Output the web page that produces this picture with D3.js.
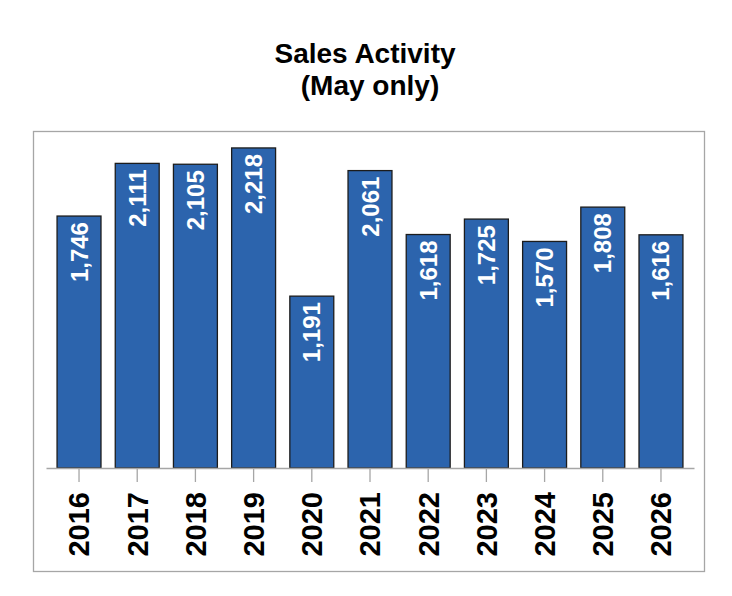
<!DOCTYPE html>
<html>
<head>
<meta charset="utf-8">
<script src="https://cdn.jsdelivr.net/npm/d3@7"></script>
<style>
  body { margin: 0; background: #fff; }
  svg { display: block; font-family: "Liberation Sans", Arial, sans-serif; }
</style>
</head>
<body>
<svg id="chart" width="732" height="596"></svg>
<script>
// data
var years = ["2016","2017","2018","2019","2020","2021","2022","2023","2024","2025","2026"];
var sales = [1746, 2111, 2105, 2218, 1191, 2061, 1618, 1725, 1570, 1808, 1616];
var titleLines = ["Sales Activity", "(May only)"];

var svg = d3.select("#chart");

// frame
svg.append("rect")
  .attr("x", 33.5).attr("y", 131.5)
  .attr("width", 671).attr("height", 440)
  .attr("fill", "none").attr("stroke", "#a6a6a6").attr("stroke-width", 1.3);

// title
svg.append("text").attr("x", 365).attr("y", 63)
  .attr("text-anchor", "middle").attr("font-size", 28).attr("font-weight", "bold")
  .text(titleLines[0]);
svg.append("text").attr("x", 370).attr("y", 95)
  .attr("text-anchor", "middle").attr("font-size", 28).attr("font-weight", "bold")
  .text(titleLines[1]);

var x = d3.scaleBand().domain(years).range([46, 694])
  .paddingInner(0.245).paddingOuter(0.19);
var y = d3.scaleLinear().domain([0, 2400]).range([468, 468 - 2400 * 0.1443]);

// bars
var fmt = d3.format(",");
var g = svg.append("g");
g.selectAll("rect").data(sales).enter().append("rect")
  .attr("x", function(d, i){ return x(years[i]); })
  .attr("y", function(d){ return y(d); })
  .attr("width", x.bandwidth())
  .attr("height", function(d){ return y(0) - y(d); })
  .attr("fill", "#2c64ad")
  .attr("stroke", "#1c1c1c").attr("stroke-width", 1.3);

// value labels inside bars
g.selectAll("text.val").data(sales).enter().append("text")
  .attr("class", "val")
  .attr("transform", function(d, i){
    var cx = x(years[i]) + x.bandwidth() / 2;
    return "translate(" + (cx + 8.5) + "," + (y(d) + 6) + ") rotate(-90)";
  })
  .attr("text-anchor", "end")
  .attr("font-size", 24).attr("font-weight", "bold").attr("fill", "#fff")
  .text(function(d){ return fmt(d); });

// x axis
var axis = svg.append("g").attr("transform", "translate(0,468)")
  .call(d3.axisBottom(x).tickSize(14).tickSizeOuter(0));
axis.select(".domain").attr("stroke", "#a6a6a6").attr("stroke-width", 1.3);
axis.selectAll(".tick line").attr("stroke", "#a6a6a6").attr("stroke-width", 1.3);
axis.selectAll(".tick text")
  .attr("transform", "rotate(-90)")
  .attr("x", -24).attr("y", 0).attr("dy", "0.36em")
  .attr("text-anchor", "end")
  .attr("font-family", "'Liberation Sans', Arial, sans-serif")
  .attr("font-size", 29).attr("font-weight", "bold").attr("fill", "#000");
</script>
</body>
</html>
